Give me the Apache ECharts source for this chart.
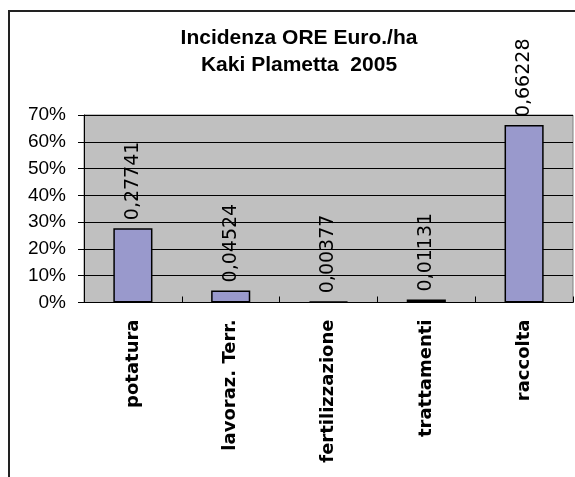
<!DOCTYPE html>
<html>
<head>
<meta charset="utf-8">
<script src="https://cdn.jsdelivr.net/npm/echarts@6/dist/echarts.min.js"></script>
<style>
  html, body { margin: 0; padding: 0; background: #fff; }
  #chart { width: 575px; height: 477px; }
</style>
</head>
<body>
<div id="chart"></div>
<script>
// data
const categories = ['potatura', 'lavoraz. Terr.', 'fertilizzazione', 'trattamenti', 'raccolta'];
const incidenza = [0.27741, 0.04524, 0.00377, 0.01131, 0.66228];
const yMin = 0;
const yMax = 0.7;
const yStep = 0.1;

const chart = echarts.init(document.getElementById('chart'), null, { renderer: 'canvas' });

chart.setOption({
    animation: false,
    backgroundColor: '#ffffff',
    title: {
        text: 'Incidenza ORE Euro./ha\nKaki Plametta  2005',
        left: 294,
        textAlign: 'center',
        top: 20,
        textStyle: {
            fontFamily: 'Liberation Sans',
            fontSize: 21,
            fontWeight: 'bold',
            color: '#000',
            lineHeight: 27
        }
    },
    graphic: [{
        type: 'rect',
        shape: { x: 9, y: 11, width: 620, height: 520 },
        style: { fill: 'none', stroke: '#222', lineWidth: 2 },
        z: 100
    }],
    grid: {
        left: 84,
        top: 115,
        right: 2,
        bottom: 174.5,
        show: true,
        backgroundColor: '#c0c0c0',
        borderColor: '#808080',
        borderWidth: 1
    },
    xAxis: {
        type: 'category',
        data: categories,
        axisLine: { lineStyle: { color: '#000', width: 1 } },
        axisTick: { show: true, inside: true, length: 6, lineStyle: { color: '#000' } },
        axisLabel: {
            rotate: 90,
            margin: 17,
            interval: 0,
            fontFamily: 'DejaVu Sans',
            fontWeight: 'bold',
            fontSize: 18,
            color: '#000'
        },
        splitLine: { show: false }
    },
    yAxis: {
        type: 'value',
        min: yMin,
        max: yMax,
        interval: yStep,
        axisLine: { show: true, lineStyle: { color: '#000', width: 1 } },
        axisTick: { show: true, length: 6, lineStyle: { color: '#000' } },
        axisLabel: {
            margin: 18,
            fontFamily: 'Liberation Sans',
            fontSize: 19,
            color: '#000',
            formatter: v => Math.round(v * 100) + '%'
        },
        splitLine: { show: true, lineStyle: { color: '#000', width: 1 } }
    },
    series: [{
        type: 'bar',
        data: incidenza,
        barWidth: '40%',
        itemStyle: { color: '#9999cc', borderColor: '#000', borderWidth: 1.5 },
        label: {
            show: true,
            position: 'top',
            rotate: 90,
            align: 'left',
            verticalAlign: 'middle',
            distance: 8,
            fontFamily: 'DejaVu Sans',
            fontSize: 19,
            color: '#000',
            formatter: p => String(p.value).replace('.', ',')
        }
    }]
});
</script>
</body>
</html>
